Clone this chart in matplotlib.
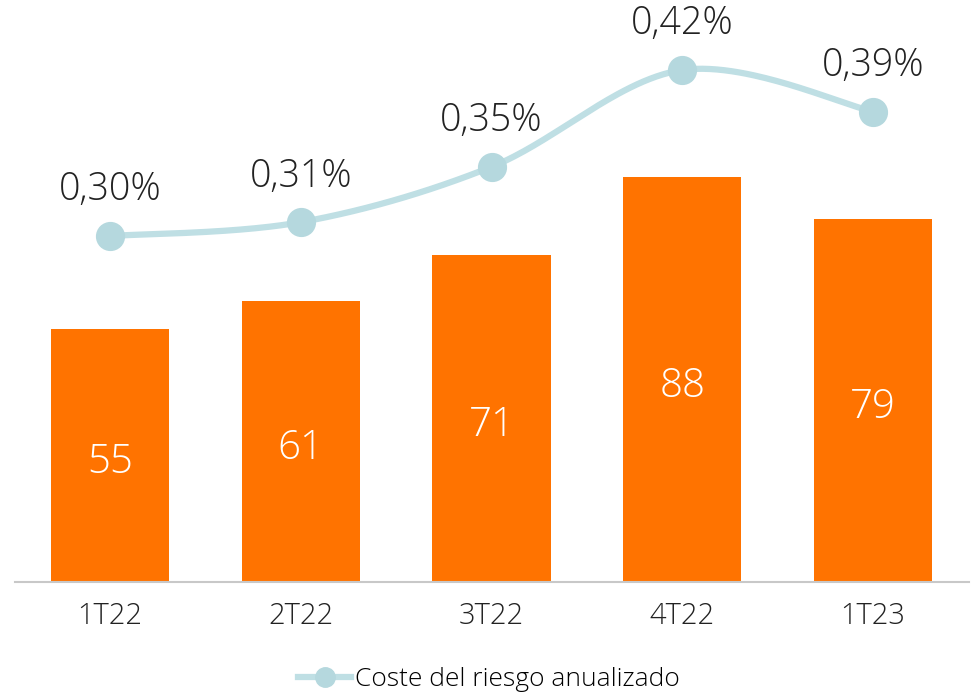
import numpy as np
import matplotlib
matplotlib.use("Agg")
import matplotlib.pyplot as plt
from matplotlib.lines import Line2D

categories = ["1T22", "2T22", "3T22", "4T22", "1T23"]
bar_values = [55, 61, 71, 88, 79]
risk_cost = [0.30, 0.31, 0.35, 0.42, 0.39]
risk_labels = ["0,30%", "0,31%", "0,35%", "0,42%", "0,39%"]
legend_label = "Coste del riesgo anualizado"

ORANGE = "#FF7300"
LINE = "#BFDFE4"
MARK = "#B5D8DE"
FONT = "Open Sans"

plt.rcParams["font.family"] = [FONT, "DejaVu Sans"]

fig = plt.figure(figsize=(9.74, 6.98), dpi=100)
ax = fig.add_axes([14.5 / 974, (698 - 582) / 698, 954 / 974, 582 / 698])

x = np.arange(len(categories))
bars = ax.bar(x, bar_values, width=0.62, color=ORANGE, zorder=2)
ax.set_xlim(-0.5, len(categories) - 0.5)
ax.set_ylim(0, 582 / 4.6)
for xi, v in zip(x, bar_values):
    ax.annotate(str(v), (xi, v / 2), xytext=(0, -5), textcoords="offset points",
                ha="center", va="center", color="white",
                fontsize=29, fontweight="light")

for s in ["top", "right", "left"]:
    ax.spines[s].set_visible(False)
ax.spines["bottom"].set_color("#C8C8C8")
ax.spines["bottom"].set_linewidth(1.5)
ax.set_yticks([])
ax.set_xticks(x)
ax.set_xticklabels(categories, fontsize=21, color="#222222", fontweight="light")
ax.tick_params(axis="x", length=0, pad=14)

ax2 = ax.twinx()
ax2.set_ylim(0.30 - (582 - 236) / 1383, 0.30 + 236 / 1383)
ax2.axis("off")

# Smooth curve (Catmull-Rom via cubic Bezier) through the data points
px = np.array(x, dtype=float)
py = np.array(risk_cost, dtype=float)
xs, ys = [], []
n = len(px)
for i in range(n - 1):
    p0 = (px[i - 1], py[i - 1]) if i > 0 else (px[i], py[i])
    p1 = (px[i], py[i])
    p2 = (px[i + 1], py[i + 1])
    p3 = (px[i + 2], py[i + 2]) if i + 2 < n else (px[i + 1], py[i + 1])
    c1 = (p1[0] + (p2[0] - p0[0]) / 6, p1[1] + (p2[1] - p0[1]) / 6)
    c2 = (p2[0] - (p3[0] - p1[0]) / 6, p2[1] - (p3[1] - p1[1]) / 6)
    t = np.linspace(0, 1, 60)
    bx = (1 - t) ** 3 * p1[0] + 3 * (1 - t) ** 2 * t * c1[0] + 3 * (1 - t) * t ** 2 * c2[0] + t ** 3 * p2[0]
    by = (1 - t) ** 3 * p1[1] + 3 * (1 - t) ** 2 * t * c1[1] + 3 * (1 - t) * t ** 2 * c2[1] + t ** 3 * p2[1]
    xs.extend(bx)
    ys.extend(by)
ax2.plot(xs, ys, color=LINE, lw=4.5, solid_capstyle="round", zorder=3)
ax2.plot(px, py, "o", color=MARK, markersize=20, zorder=4)
for xi, v, lab in zip(px, py, risk_labels):
    ax2.annotate(lab, (xi, v), xytext=(0, 33), textcoords="offset points",
                 ha="center", va="center", fontsize=27, color="#222222",
                 fontweight="light")

handle = Line2D([], [], color=LINE, lw=4.5, marker="o", markersize=14,
                markerfacecolor=MARK, markeredgecolor=MARK)
fig.legend([handle], [legend_label], loc="center", bbox_to_anchor=(0.502, 18 / 698),
           frameon=False, handlelength=2.0, handletextpad=0.15,
           prop={"family": [FONT, "DejaVu Sans"], "size": 19, "weight": "light"})

fig.savefig("out.png", dpi=100)
